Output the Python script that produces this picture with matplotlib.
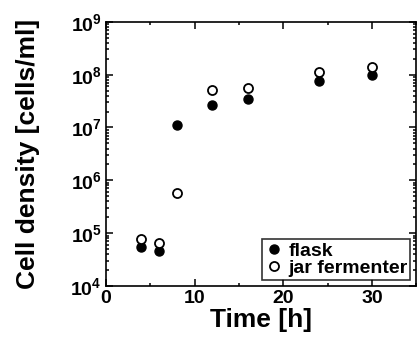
import matplotlib
matplotlib.use("Agg")
import matplotlib.pyplot as plt
from matplotlib.ticker import LogLocator, MultipleLocator, NullFormatter

plt.rcParams['font.family'] = ['Liberation Sans', 'DejaVu Sans']
plt.rcParams['font.weight'] = 'bold'
plt.rcParams['mathtext.fontset'] = 'custom'
plt.rcParams['mathtext.rm'] = 'Liberation Sans:bold'
plt.rcParams['mathtext.bf'] = 'Liberation Sans:bold'
plt.rcParams['mathtext.it'] = 'Liberation Sans:bold'

# datos
tiempo = [4, 6, 8, 12, 16, 24, 30]
flask = [5.5e4, 4.5e4, 1.1e7, 2.7e7, 3.5e7, 7.6e7, 1.0e8]
jar = [7.8e4, 6.5e4, 5.8e5, 5.1e7, 5.6e7, 1.14e8, 1.4e8]

y_ticks = [1e4, 1e5, 1e6, 1e7, 1e8, 1e9]
y_labels = [r'$10^{4}$', r'$10^{5}$', r'$10^{6}$', r'$10^{7}$', r'$10^{8}$', r'$10^{9}$']
x_ticks = [0, 10, 20, 30]

fig = plt.figure(figsize=(4.17, 3.42), dpi=100)
ax = fig.add_axes([0.254, 0.164, 0.744, 0.772])

ax.plot(tiempo, flask, 'o', color='black', markersize=6.5, label='flask')
ax.plot(tiempo, jar, 'o', markerfacecolor='white', markeredgecolor='black',
        markeredgewidth=1.3, markersize=6.5, label='jar fermenter')

ax.set_yscale('log')
ax.set_ylim(1e4, 1e9)
ax.set_xlim(0, 35)

ax.set_yticks(y_ticks)
ax.set_yticklabels(y_labels)
ax.yaxis.set_minor_locator(LogLocator(base=10, subs=range(2, 10), numticks=20))
ax.yaxis.set_minor_formatter(NullFormatter())
ax.set_xticks(x_ticks)
ax.xaxis.set_minor_locator(MultipleLocator(5))

ax.tick_params(which='both', direction='in', top=True, right=True, width=1.1)
ax.tick_params(which='major', length=5, labelsize=14, pad=3)
ax.tick_params(which='minor', length=2.5)
for s in ax.spines.values():
    s.set_linewidth(1.2)

ax.set_xlabel('Time [h]', fontsize=19, fontweight='bold', labelpad=1)
ax.set_ylabel('Cell density [cells/ml]', fontsize=19, fontweight='bold', labelpad=22)

leg = ax.legend(loc='lower right', fontsize=14, frameon=True, fancybox=False,
                edgecolor='black', handletextpad=0.3, borderpad=0.15,
                labelspacing=0.0, handlelength=0.9, borderaxespad=0.3)
leg.get_frame().set_linewidth(1.2)

fig.savefig('out.png', dpi=100)
